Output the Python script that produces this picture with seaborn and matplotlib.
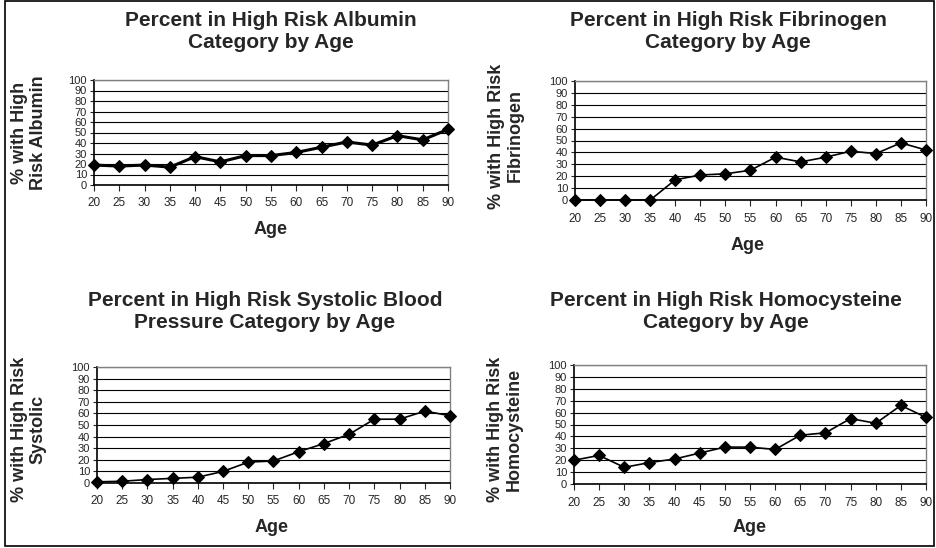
import matplotlib
matplotlib.use("Agg")
import matplotlib.pyplot as plt
import seaborn as sns
import pandas as pd
from matplotlib.patches import Rectangle

# data
ages = [20, 25, 30, 35, 40, 45, 50, 55, 60, 65, 70, 75, 80, 85, 90]
albumin = [19, 18, 19, 17, 27, 22, 28, 28, 31, 36, 41, 38, 47, 43, 53]
fibrinogen = [0, 0, 0, 0, 17, 21, 22, 25, 36, 32, 36, 41, 39, 48, 42]
systolic = [1, 1.5, 3, 4, 5, 10, 18, 19, 27, 34, 42, 55, 55, 62, 58]
homocysteine = [20, 24, 14, 18, 21, 26, 31, 31, 29, 41, 43, 55, 51, 66, 56]

titles = ["Percent in High Risk Albumin\nCategory by Age",
          "Percent in High Risk Fibrinogen\nCategory by Age",
          "Percent in High Risk Systolic Blood\nPressure Category by Age",
          "Percent in High Risk Homocysteine\nCategory by Age"]
ylabels = ["% with High\nRisk Albumin",
           "% with High Risk\nFibrinogen",
           "% with High Risk\nSystolic",
           "% with High Risk\nHomocysteine"]
series = [albumin, fibrinogen, systolic, homocysteine]

sns.set_style("white")
plt.rcParams['font.family'] = ['Liberation Sans', 'DejaVu Sans']

W, H = 937, 548
fig = plt.figure(figsize=(W / 100, H / 100), dpi=100)

def fx(px):
    return px / W

def fy(py):
    return 1 - py / H

# plot area boxes in pixels: left, top, right, bottom
boxes = [(94, 80, 448, 185), (575, 81, 926, 200),
         (97, 367, 450, 483), (574, 365, 926, 484)]
title_pos = [(271, 31.5), (728, 32), (265, 311), (726, 311)]
ylab_pos = [(29, 133), (505.5, 136), (28.5, 429), (505, 429)]
age_pos = [(271, 230), (748, 246), (272, 528), (750, 527)]
line_w = [2.2, 1.2, 1.2, 1.2]

for i in range(4):
    l, t, r, b = boxes[i]
    ax = fig.add_axes([fx(l), fy(b), fx(r - l), (b - t) / H])
    df = pd.DataFrame({"Age": ages, "Pct": series[i]})
    sns.lineplot(data=df, x="Age", y="Pct", ax=ax, color="black",
                 marker="D", markersize=6.5, markeredgecolor="black",
                 linewidth=line_w[i], clip_on=False, zorder=5)
    ax.set_xlim(20, 90)
    ax.set_ylim(0, 100)
    ax.set_xticks(ages)
    ax.set_yticks(range(0, 101, 10))
    ax.tick_params(axis="x", labelsize=8.5, length=4, width=0.8,
                   direction="out", bottom=True, pad=5)
    ax.tick_params(axis="y", labelsize=8, length=3, width=0.8,
                   direction="out", left=True, pad=2)
    ax.grid(axis="y", color="black", linewidth=0.8)
    ax.grid(axis="x", visible=False)
    ax.set_axisbelow(True)
    ax.set_xlabel("")
    ax.set_ylabel("")
    for s in ["left", "bottom"]:
        ax.spines[s].set_color("black")
        ax.spines[s].set_linewidth(1.2)
    for s in ["top", "right"]:
        ax.spines[s].set_color("#808080")
        ax.spines[s].set_linewidth(1.0)

    fig.text(fx(title_pos[i][0]), fy(title_pos[i][1]), titles[i],
             ha="center", va="center", fontsize=15, fontweight="bold",
             linespacing=1.2)
    fig.text(fx(ylab_pos[i][0]), fy(ylab_pos[i][1]), ylabels[i],
             ha="center", va="center", rotation=90, fontsize=13,
             fontweight="bold", linespacing=1.12)
    fig.text(fx(age_pos[i][0]), fy(age_pos[i][1]), "Age",
             ha="center", va="center", fontsize=13, fontweight="bold")

# outer frame round the whole picture
fig.patches.append(Rectangle((fx(5), fy(546)), fx(929), 545 / H,
                             transform=fig.transFigure, fill=False,
                             edgecolor="black", linewidth=1.2))

fig.savefig("out.png", dpi=100)
